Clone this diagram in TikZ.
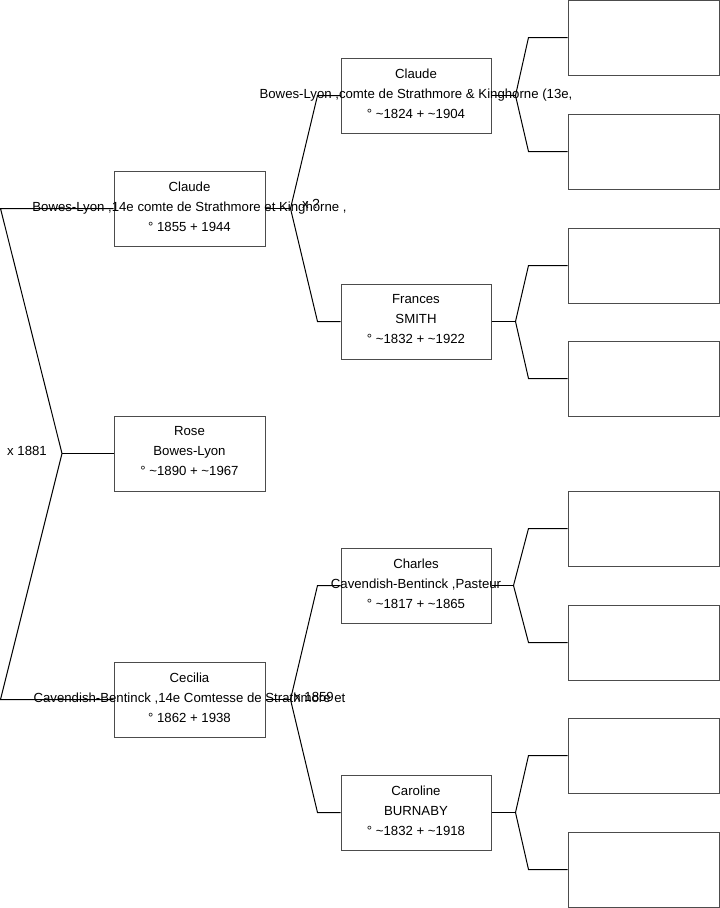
\documentclass[tikz,border=0pt]{standalone}
\usepackage{fontspec}
\setmainfont{Liberation Sans}
\usepackage{xcolor}
\usepackage{tikz}
\usetikzlibrary{positioning,calc}
\tikzset{
    person/.style={rectangle, draw=black!70, line width=0.75pt, minimum width=113.25pt, minimum height=56.25pt, inner sep=0pt},
    parent/.style={person, minimum width=112.5pt},
    txt/.style={font=\fontsize{9.9}{15}\selectfont, align=center, inner sep=0pt},
    link/.style={line width=0.75pt, draw=black},
}

\begin{document}
\begin{tikzpicture}[x=0.75pt, y=-0.75pt]
    \useasboundingbox (0,0) rectangle (719,908);

    % generation 1 and 2
    \node[person] (rose) at (189.5,453.5) {};
    \node[person] (claude2) at (189.5,208.5) {};
    \node[person] (cecilia) at (189.5,699.5) {};

    % generation 3
    \node[parent] (claude3) at (416,95.5) {};
    \node[parent] (frances) at (416,321.5) {};
    \node[parent] (charles) at (416,585.5) {};
    \node[parent] (caroline) at (416,812.5) {};

    % generation 4, all empty
    \node[person] (g4a) at (643.5,37.5) {};
    \node[person] (g4b) at (643.5,151.5) {};
    \node[person] (g4c) at (643.5,265.5) {};
    \node[person] (g4d) at (643.5,378.5) {};
    \node[person] (g4e) at (643.5,528.5) {};
    \node[person] (g4f) at (643.5,642.5) {};
    \node[person] (g4g) at (643.5,755.5) {};
    \node[person] (g4h) at (643.5,869.5) {};

    % names
    \node[txt] (rose-t) at ([yshift=1.5pt]rose) {Rose\\Bowes-Lyon\\° \textasciitilde1890 + \textasciitilde1967};
    \node[txt] (claude2-t) at ([yshift=1.5pt]claude2) {Claude\\Bowes-Lyon ,14e comte de Strathmore et Kinghorne ,\\° 1855 + 1944};
    \node[txt] (cecilia-t) at ([yshift=1.5pt]cecilia) {Cecilia\\Cavendish-Bentinck ,14e Comtesse de Strathmore et\\° 1862 + 1938};
    \node[txt] (claude3-t) at ([yshift=1.5pt]claude3) {Claude\\Bowes-Lyon ,comte de Strathmore \& Kinghorne (13e,\\° \textasciitilde1824 + \textasciitilde1904};
    \node[txt] (frances-t) at ([yshift=1.5pt]frances) {Frances\\SMITH\\° \textasciitilde1832 + \textasciitilde1922};
    \node[txt] (charles-t) at ([yshift=1.5pt]charles) {Charles\\Cavendish-Bentinck ,Pasteur\\° \textasciitilde1817 + \textasciitilde1865};
    \node[txt] (caroline-t) at ([yshift=1.5pt]caroline) {Caroline\\BURNABY\\° \textasciitilde1832 + \textasciitilde1918};

    % marriages
    \node[txt] (mar1) at (27,451) {x 1881};
    \node[txt] (mar2) at (311,204) {x ?};
    \node[txt] (mar3) at (314,697) {x 1859};

    % forks
    \coordinate (m1) at (62,453.5);
    \coordinate (m1a) at (0.5,208.5);
    \coordinate (m1b) at (0.5,699.5);
    \draw[link] (rose.west) -- (m1);
    \draw[link] (m1) -- (m1a) -- (claude2.west);
    \draw[link] (m1) -- (m1b) -- (cecilia.west);

    \draw[link] (claude2.east) -- ++(25,0) coordinate (m2);
    \draw[link] (m2) -- ($(claude3.west)+(-23,0)$) -- (claude3.west);
    \draw[link] (m2) -- ($(frances.west)+(-23,0)$) -- (frances.west);
    \draw[link] (cecilia.east) -- ++(25,0) coordinate (m3);
    \draw[link] (m3) -- ($(charles.west)+(-23,0)$) -- (charles.west);
    \draw[link] (m3) -- ($(caroline.west)+(-23,0)$) -- (caroline.west);

    \draw[link] (claude3.east) -- ++(24,0) coordinate (m4);
    \draw[link] (m4) -- ($(g4a.west)+(-39,0)$) -- (g4a.west);
    \draw[link] (m4) -- ($(g4b.west)+(-39,0)$) -- (g4b.west);
    \draw[link] (frances.east) -- ++(24,0) coordinate (m5);
    \draw[link] (m5) -- ($(g4c.west)+(-39,0)$) -- (g4c.west);
    \draw[link] (m5) -- ($(g4d.west)+(-39,0)$) -- (g4d.west);
    \draw[link] (charles.east) -- ++(22,0) coordinate (m6);
    \draw[link] (m6) -- ($(g4e.west)+(-39,0)$) -- (g4e.west);
    \draw[link] (m6) -- ($(g4f.west)+(-39,0)$) -- (g4f.west);
    \draw[link] (caroline.east) -- ++(24,0) coordinate (m7);
    \draw[link] (m7) -- ($(g4g.west)+(-39,0)$) -- (g4g.west);
    \draw[link] (m7) -- ($(g4h.west)+(-39,0)$) -- (g4h.west);
\end{tikzpicture}
\end{document}
